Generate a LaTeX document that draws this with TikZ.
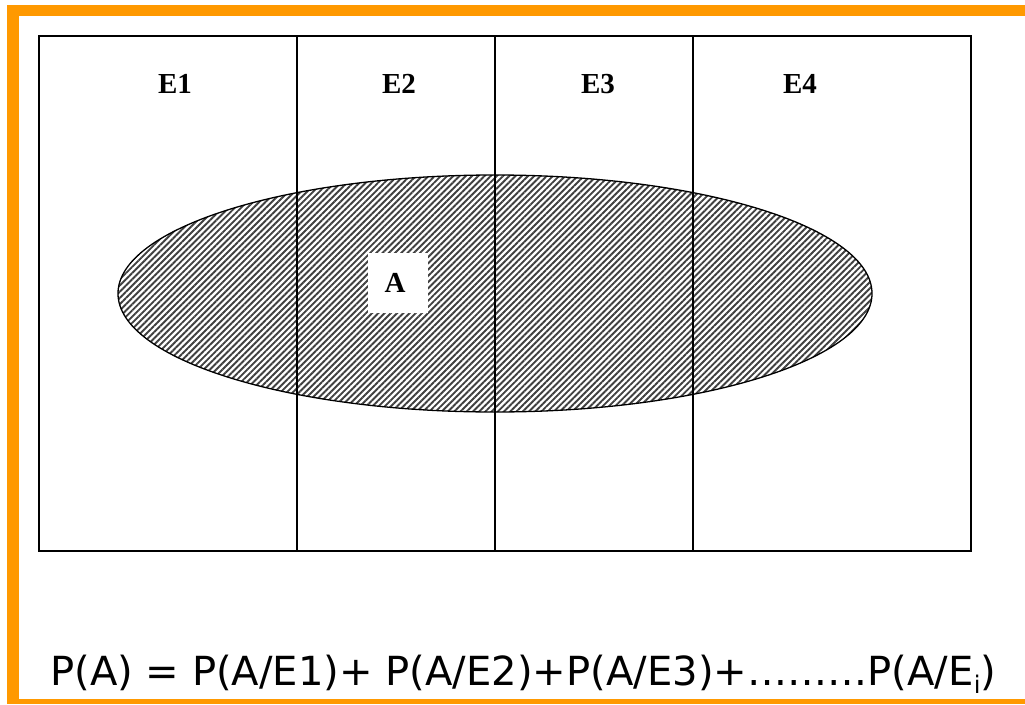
\documentclass[tikz,border=0pt]{standalone}
\usepackage{fontspec}
\setmainfont{Liberation Serif}
\newfontfamily\formulafont{DejaVu Sans}
\usetikzlibrary{patterns.meta}
\definecolor{frameorange}{HTML}{FF9900}
\tikzset{
  partline/.style={draw=black, line width=1.2pt},
  elabel/.style={font=\fontsize{29}{33}\selectfont\bfseries, inner sep=0pt},
  hatched/.style={draw=black, line width=1.3pt,
    pattern={Lines[angle=45,distance=4.4pt,line width=1.9pt]}, pattern color=black!75},
}
\begin{document}
\begin{tikzpicture}[x=1pt,y=-1pt]
\useasboundingbox (0,0) rectangle (1025,704);
\fill[white] (0,0) rectangle (1025,704);
% orange frame
\fill[frameorange] (7,5) rectangle (1025,16);
\fill[frameorange] (7,5) rectangle (19,704);
\fill[frameorange] (7,699) rectangle (1025,704);
% ellipse A
\path[hatched] (495,293.5) ellipse [x radius=377, y radius=118.5];
% sample space and partition
\coordinate (tl) at (39,36);
\coordinate (br) at (971,551);
\draw[partline] (tl) rectangle (br);
\draw[partline] (297,36) -- (297,551);
\draw[partline] (495,36) -- (495,551);
\draw[partline] (693,36) -- (693,551);
\node[elabel] (e1) at (175,84) {E1};
\node[elabel] (e2) at (399,84) {E2};
\node[elabel] (e3) at (598,84) {E3};
\node[elabel] (e4) at (800,84) {E4};
\fill[white] (368,253) rectangle (428,313);
\node[elabel] (a) at (395,283) {A};
\node[anchor=base west, inner sep=0pt] (f) at (50,685)
  {\resizebox{946pt}{!}{\formulafont\fontsize{38}{44}\selectfont P(A) = P(A/E1)+ P(A/E2)+P(A/E3)+………P(A/E\raisebox{-0.22em}{\fontsize{23}{26}\selectfont i})}};
\end{tikzpicture}
\end{document}
